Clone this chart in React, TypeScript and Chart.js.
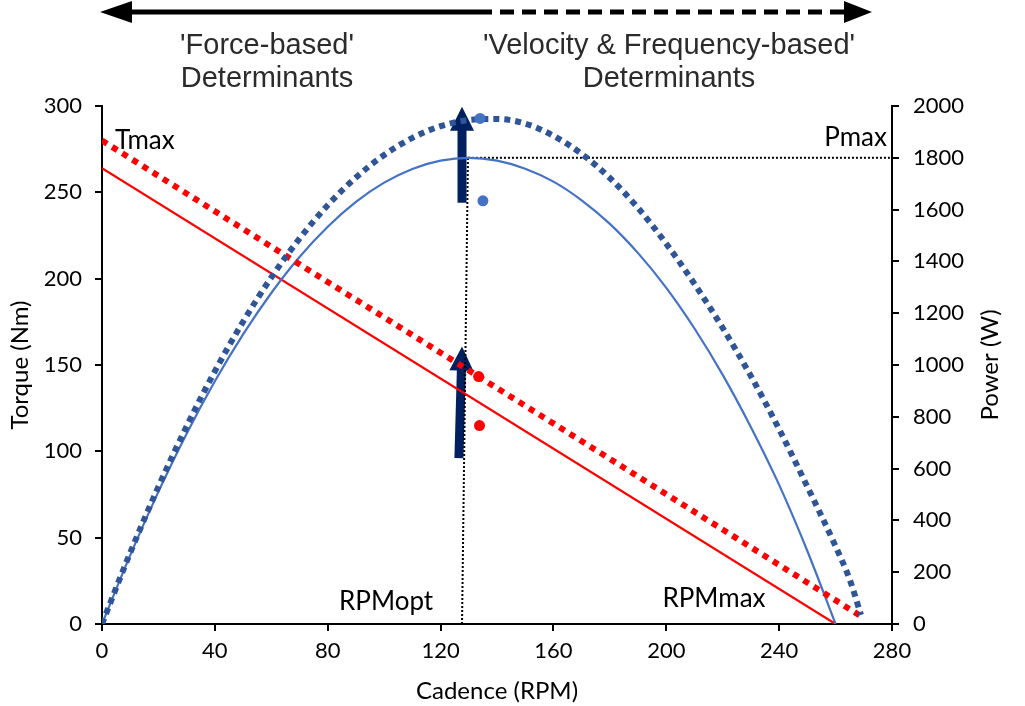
import { useEffect, useRef } from "react";
import { Chart, registerables } from "chart.js";

Chart.register(...registerables);

// Torque–cadence relationships (Nm vs RPM)
const torqueCadence = [0, 260];
const torqueBaseline = [264, 0];
const torqueTrainedCadence = [0, 269];
const torqueTrained = [280, 4.5];

// Power–cadence relationships (W vs RPM)
const powerCadence = [0, 10, 20, 30, 40, 50, 60, 70, 80, 90, 100, 110, 120, 130, 140, 150, 160, 170, 180, 190, 200, 210, 220, 230, 240, 250, 260];
const powerBaseline = [0, 266, 511, 735, 937, 1118, 1278, 1417, 1534, 1630, 1704, 1757, 1789, 1800, 1789, 1758, 1708, 1636, 1545, 1432, 1298, 1141, 962, 760, 537, 282, 0];
const powerTrainedCadence = [0, 10, 20, 30, 40, 50, 60, 70, 80, 90, 100, 110, 120, 130, 140, 150, 160, 170, 180, 190, 200, 210, 220, 230, 240, 250, 260, 265, 269];
const powerTrained = [0, 275, 530, 763, 976, 1167, 1338, 1488, 1617, 1724, 1811, 1877, 1922, 1946, 1950, 1932, 1885, 1815, 1722, 1606, 1468, 1313, 1143, 957, 752, 530, 300, 172, 35];

// Individual observations near the optimal cadence
const torquePointCadence = [133.5, 133.8];
const torquePoints = [143.3, 114.9];
const powerPointCadence = [134, 135];
const powerPoints = [1952, 1634];

// Optimal cadence / maximal power reference lines
const optCadenceLine = [127.6, 129.7];
const optCadencePower = [0, 1800];
const pmaxCadenceLine = [129.7, 280];
const pmaxPower = [1800, 1800];

// Improvement arrows (start -> tip)
const powerArrowCadence = [127.6, 127.6];
const powerArrowValues = [1626, 1997];
const torqueArrowCadence = [126.5, 127.6];
const torqueArrowValues = [96, 160.7];

// Axis tick settings
const cadenceTicks = { min: 0, max: 280, step: 40 };
const torqueTicks = { min: 0, max: 300, step: 50 };
const powerTicks = { min: 0, max: 2000, step: 200 };

const zip = (xs: number[], ys: number[]) => xs.map((x, i) => ({ x, y: ys[i] }));

const FONT = "Lato, 'Open Sans', sans-serif";
const NAVY = "#002060";

function drawArrow(ctx: CanvasRenderingContext2D, x0: number, y0: number, x1: number, y1: number) {
  const dx = x1 - x0;
  const dy = y1 - y0;
  const len = Math.hypot(dx, dy);
  const ux = dx / len;
  const uy = dy / len;
  const nx = -uy;
  const ny = ux;
  const headLen = 24;
  const headHalf = 12;
  const shaftHalf = 4.5;
  const bx = x1 - ux * headLen;
  const by = y1 - uy * headLen;
  ctx.beginPath();
  ctx.moveTo(x0 + nx * shaftHalf, y0 + ny * shaftHalf);
  ctx.lineTo(bx + nx * shaftHalf, by + ny * shaftHalf);
  ctx.lineTo(bx + nx * headHalf, by + ny * headHalf);
  ctx.lineTo(x1, y1);
  ctx.lineTo(bx - nx * headHalf, by - ny * headHalf);
  ctx.lineTo(bx - nx * shaftHalf, by - ny * shaftHalf);
  ctx.lineTo(x0 - nx * shaftHalf, y0 - ny * shaftHalf);
  ctx.closePath();
  ctx.fill();
}

const arrowsPlugin = {
  id: "improvementArrows",
  beforeDatasetsDraw(chart: any) {
    const { ctx, scales } = chart;
    const x = scales.x;
    ctx.save();
    ctx.fillStyle = NAVY;
    drawArrow(
      ctx,
      x.getPixelForValue(powerArrowCadence[0]), scales.y1.getPixelForValue(powerArrowValues[0]),
      x.getPixelForValue(powerArrowCadence[1]), scales.y1.getPixelForValue(powerArrowValues[1])
    );
    drawArrow(
      ctx,
      x.getPixelForValue(torqueArrowCadence[0]), scales.y.getPixelForValue(torqueArrowValues[0]),
      x.getPixelForValue(torqueArrowCadence[1]), scales.y.getPixelForValue(torqueArrowValues[1])
    );
    ctx.restore();
  },
};

const labelsPlugin = {
  id: "curveLabels",
  afterDatasetsDraw(chart: any) {
    const { ctx, scales, chartArea } = chart;
    const x = scales.x;
    ctx.save();
    ctx.fillStyle = "#000";
    ctx.font = `26px ${FONT}`;
    ctx.textBaseline = "alphabetic";
    ctx.textAlign = "left";
    ctx.fillText("Tmax", x.getPixelForValue(4.6), scales.y.getPixelForValue(275.3));
    ctx.textAlign = "right";
    ctx.fillText("Pmax", x.getPixelForValue(278.2), scales.y1.getPixelForValue(1844));
    ctx.textAlign = "center";
    ctx.fillText("RPMopt", x.getPixelForValue(100.7), scales.y.getPixelForValue(8.1));
    ctx.fillText("RPMmax", x.getPixelForValue(216.9), scales.y.getPixelForValue(9.9));

    // right axis title, reading bottom-to-top
    ctx.font = `24px ${FONT}`;
    ctx.textBaseline = "middle";
    ctx.translate(scales.y1.right - 35, (chartArea.top + chartArea.bottom) / 2);
    ctx.rotate(-Math.PI / 2);
    ctx.fillText("Power (W)", 0, 0);
    ctx.restore();
  },
};

const headerPlugin = {
  id: "determinantsHeader",
  afterDraw(chart: any) {
    const { ctx } = chart;
    ctx.save();
    ctx.filter = "blur(0.5px)";
    ctx.fillStyle = "#000";
    ctx.strokeStyle = "#000";
    ctx.lineWidth = 5;
    const y = 12;
    ctx.beginPath();
    ctx.moveTo(120, y);
    ctx.lineTo(478, y);
    ctx.stroke();
    ctx.setLineDash([14, 8]);
    ctx.beginPath();
    ctx.moveTo(478, y);
    ctx.lineTo(848, y);
    ctx.stroke();
    ctx.setLineDash([]);
    ctx.beginPath();
    ctx.moveTo(100, y);
    ctx.lineTo(132, y - 11);
    ctx.lineTo(132, y + 11);
    ctx.closePath();
    ctx.fill();
    ctx.beginPath();
    ctx.moveTo(872, y);
    ctx.lineTo(844, y - 11);
    ctx.lineTo(844, y + 11);
    ctx.closePath();
    ctx.fill();

    ctx.fillStyle = "#2b2b2b";
    ctx.font = "29px 'Liberation Sans', Arial, sans-serif";
    ctx.textAlign = "center";
    ctx.textBaseline = "middle";
    ctx.fillText("'Force-based'", 267, 46);
    ctx.fillText("Determinants", 267, 79);
    ctx.fillText("'Velocity & Frequency-based'", 669, 46);
    ctx.fillText("Determinants", 669, 79);
    ctx.restore();
  },
};

export default function App() {
  const canvasRef = useRef<HTMLCanvasElement | null>(null);

  useEffect(() => {
    if (!canvasRef.current) return;
    const tickFont = { family: FONT, size: 22 };
    const titleFont = { family: FONT, size: 24 };
    const plain = (v: any) => String(v);
    const axisCommon = {
      border: { color: "#000", width: 2 },
      grid: { drawOnChartArea: false, drawTicks: true, tickLength: 7, color: "#000", lineWidth: 2 },
    };

    const chart = new Chart(canvasRef.current, {
      type: "line",
      data: {
        datasets: [
          {
            label: "Power observations",
            data: zip(powerPointCadence, powerPoints),
            yAxisID: "y1",
            showLine: false,
            pointRadius: 5.5,
            pointBackgroundColor: "#4472c4",
            pointBorderWidth: 0,
          },
          {
            label: "Torque observations",
            data: zip(torquePointCadence, torquePoints),
            yAxisID: "y",
            showLine: false,
            pointRadius: 5.5,
            pointBackgroundColor: "#ff0000",
            pointBorderWidth: 0,
          },
          {
            label: "Power (trained)",
            data: zip(powerTrainedCadence, powerTrained),
            yAxisID: "y1",
            borderColor: "#2f5597",
            borderWidth: 6,
            borderDash: [6, 5],
            cubicInterpolationMode: "monotone",
            pointRadius: 0,
          },
          {
            label: "Torque (trained)",
            data: zip(torqueTrainedCadence, torqueTrained),
            yAxisID: "y",
            borderColor: "#ff0000",
            borderWidth: 6,
            borderDash: [6, 6],
            pointRadius: 0,
          },
          {
            label: "Power",
            data: zip(powerCadence, powerBaseline),
            yAxisID: "y1",
            borderColor: "#4472c4",
            borderWidth: 2.2,
            cubicInterpolationMode: "monotone",
            pointRadius: 0,
          },
          {
            label: "Torque",
            data: zip(torqueCadence, torqueBaseline),
            yAxisID: "y",
            borderColor: "#ff0000",
            borderWidth: 2.2,
            pointRadius: 0,
          },
          {
            label: "RPMopt",
            data: zip(optCadenceLine, optCadencePower),
            yAxisID: "y1",
            borderColor: "#000",
            borderWidth: 2,
            borderDash: [2, 2],
            pointRadius: 0,
          },
          {
            label: "Pmax",
            data: zip(pmaxCadenceLine, pmaxPower),
            yAxisID: "y1",
            borderColor: "#000",
            borderWidth: 2,
            borderDash: [2, 2],
            pointRadius: 0,
          },
        ],
      },
      options: {
        animation: false,
        responsive: false,
        devicePixelRatio: 1,
        layout: { padding: { top: 106, left: 0, right: 0, bottom: 0 } },
        plugins: { legend: { display: false }, tooltip: { enabled: false } },
        scales: {
          x: {
            type: "linear",
            min: cadenceTicks.min,
            max: cadenceTicks.max,
            ...axisCommon,
            ticks: { stepSize: cadenceTicks.step, color: "#000", font: tickFont, padding: 7, maxRotation: 0, callback: plain },
            title: { display: true, text: "Cadence (RPM)", color: "#000", font: titleFont, padding: { top: 0, bottom: 0 } },
            afterFit: (s: any) => { s.height = 82; },
          },
          y: {
            type: "linear",
            position: "left",
            min: torqueTicks.min,
            max: torqueTicks.max,
            ...axisCommon,
            ticks: { stepSize: torqueTicks.step, color: "#000", font: tickFont, padding: 13, callback: plain },
            title: { display: true, text: "Torque (Nm)", color: "#000", font: titleFont, padding: { top: 6, bottom: 0 } },
            afterFit: (s: any) => { s.width = 102; },
          },
          y1: {
            type: "linear",
            position: "right",
            min: powerTicks.min,
            max: powerTicks.max,
            ...axisCommon,
            ticks: { stepSize: powerTicks.step, color: "#000", font: tickFont, padding: 14, callback: plain },
            title: { display: false },
            afterFit: (s: any) => { s.width = 133; },
          },
        },
      },
      plugins: [arrowsPlugin, labelsPlugin, headerPlugin],
    } as any);

    return () => chart.destroy();
  }, []);

  return (
    <div style={{ position: "absolute", left: 0, top: 0, width: 1025, height: 706, background: "#fff" }}>
      <canvas ref={canvasRef} width={1025} height={706} style={{ display: "block" }} />
    </div>
  );
}
